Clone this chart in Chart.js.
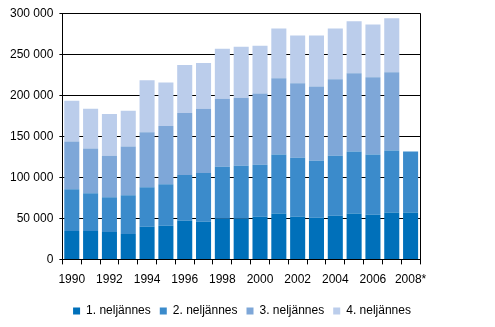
<!DOCTYPE html>
<html>
<head>
<meta charset="utf-8">
<script src="https://cdn.jsdelivr.net/npm/chart.js@4"></script>
<style>
  html, body { margin: 0; padding: 0; background: #fff; }
  #wrap { width: 495px; height: 327px; }
</style>
</head>
<body>
<div id="wrap"><canvas id="chart"></canvas></div>
<script>
// Data
const years = ['1990', '1991', '1992', '1993', '1994', '1995', '1996', '1997', '1998', '1999',
    '2000', '2001', '2002', '2003', '2004', '2005', '2006', '2007', '2008*'];
const q1 = [34700, 34700, 33500, 31000, 39700, 40900, 47100, 45900, 49600, 49600,
    52100, 55800, 52100, 50800, 53300, 55800, 54500, 57000, 57000];
const q2 = [50800, 45900, 42100, 47100, 48300, 50800, 55800, 59500, 63200, 64400,
    63200, 71900, 71900, 69400, 73100, 75600, 73200, 75600, 74400];
const q3 = [58300, 54500, 50800, 59500, 67000, 70700, 75600, 78100, 83100, 83100,
    86800, 92900, 90500, 90500, 93000, 95400, 94200, 95500, null];
const q4 = [49600, 48400, 50900, 43400, 63200, 53300, 58300, 55700, 60700, 62000,
    58200, 60800, 58200, 62000, 62000, 63300, 64400, 65700, null];
const seriesNames = ['1. neljännes', '2. neljännes', '3. neljännes', '4. neljännes'];
const colors = ['#0070BA', '#3B8BCB', '#7EA7D8', '#BBCDEB'];

Chart.defaults.font.family = 'Arial, "Liberation Sans", sans-serif';
Chart.defaults.font.size = 12;
Chart.defaults.color = '#000';

// right frame line of the plot area
const rightBorder = {
    id: 'rightBorder',
    afterDraw(chart) {
        const { ctx, chartArea } = chart;
        ctx.save();
        ctx.strokeStyle = '#000';
        ctx.lineWidth = 1;
        ctx.beginPath();
        ctx.moveTo(Math.round(chartArea.right) + 0.5, chartArea.top);
        ctx.lineTo(Math.round(chartArea.right) + 0.5, chartArea.bottom + 4);
        ctx.stroke();
        ctx.restore();
    }
};

// centre the legend on the whole canvas, not on the padded box
const legendShift = {
    id: 'legendShift',
    afterLayout(chart) {
        const lg = chart.legend;
        if (!lg) return;
        lg.left += 30;
        lg.right += 30;
    }
};

const fmt = v => String(v).replace(/\B(?=(\d{3})+(?!\d))/g, ' ');

const ctx = document.getElementById('chart').getContext('2d');
new Chart(ctx, {
    type: 'bar',
    data: {
        labels: years,
        datasets: [q1, q2, q3, q4].map((d, i) => ({
            label: seriesNames[i],
            data: d,
            backgroundColor: colors[i],
            borderWidth: 0,
            barPercentage: 0.8,
            categoryPercentage: 1.0
        }))
    },
    options: {
        responsive: true,
        maintainAspectRatio: false,
        animation: false,
        layout: { padding: { top: 10, right: 75, left: 4, bottom: 0 } },
        scales: {
            x: {
                stacked: true,
                grid: {
                    offset: true,
                    drawOnChartArea: false,
                    color: '#000',
                    tickLength: 5
                },
                border: { color: '#000' },
                ticks: {
                    autoSkip: false,
                    maxRotation: 0,
                    padding: 8,
                    callback: (v, i) => (i % 2 === 0 ? years[i] : '')
                }
            },
            y: {
                stacked: true,
                min: 0,
                max: 300000,
                grid: {
                    color: '#000',
                    tickLength: 3
                },
                border: { color: '#000' },
                ticks: {
                    stepSize: 50000,
                    padding: 6,
                    callback: v => fmt(v)
                }
            }
        },
        plugins: {
            legend: {
                position: 'bottom',
                // empty title only adds a little space above the legend items
                title: { display: true, text: ' ', font: { size: 1 }, padding: 0 },
                labels: {
                    boxWidth: 7,
                    boxHeight: 7,
                    padding: 9
                }
            },
            tooltip: { enabled: false }
        }
    },
    plugins: [rightBorder, legendShift]
});
</script>
</body>
</html>
